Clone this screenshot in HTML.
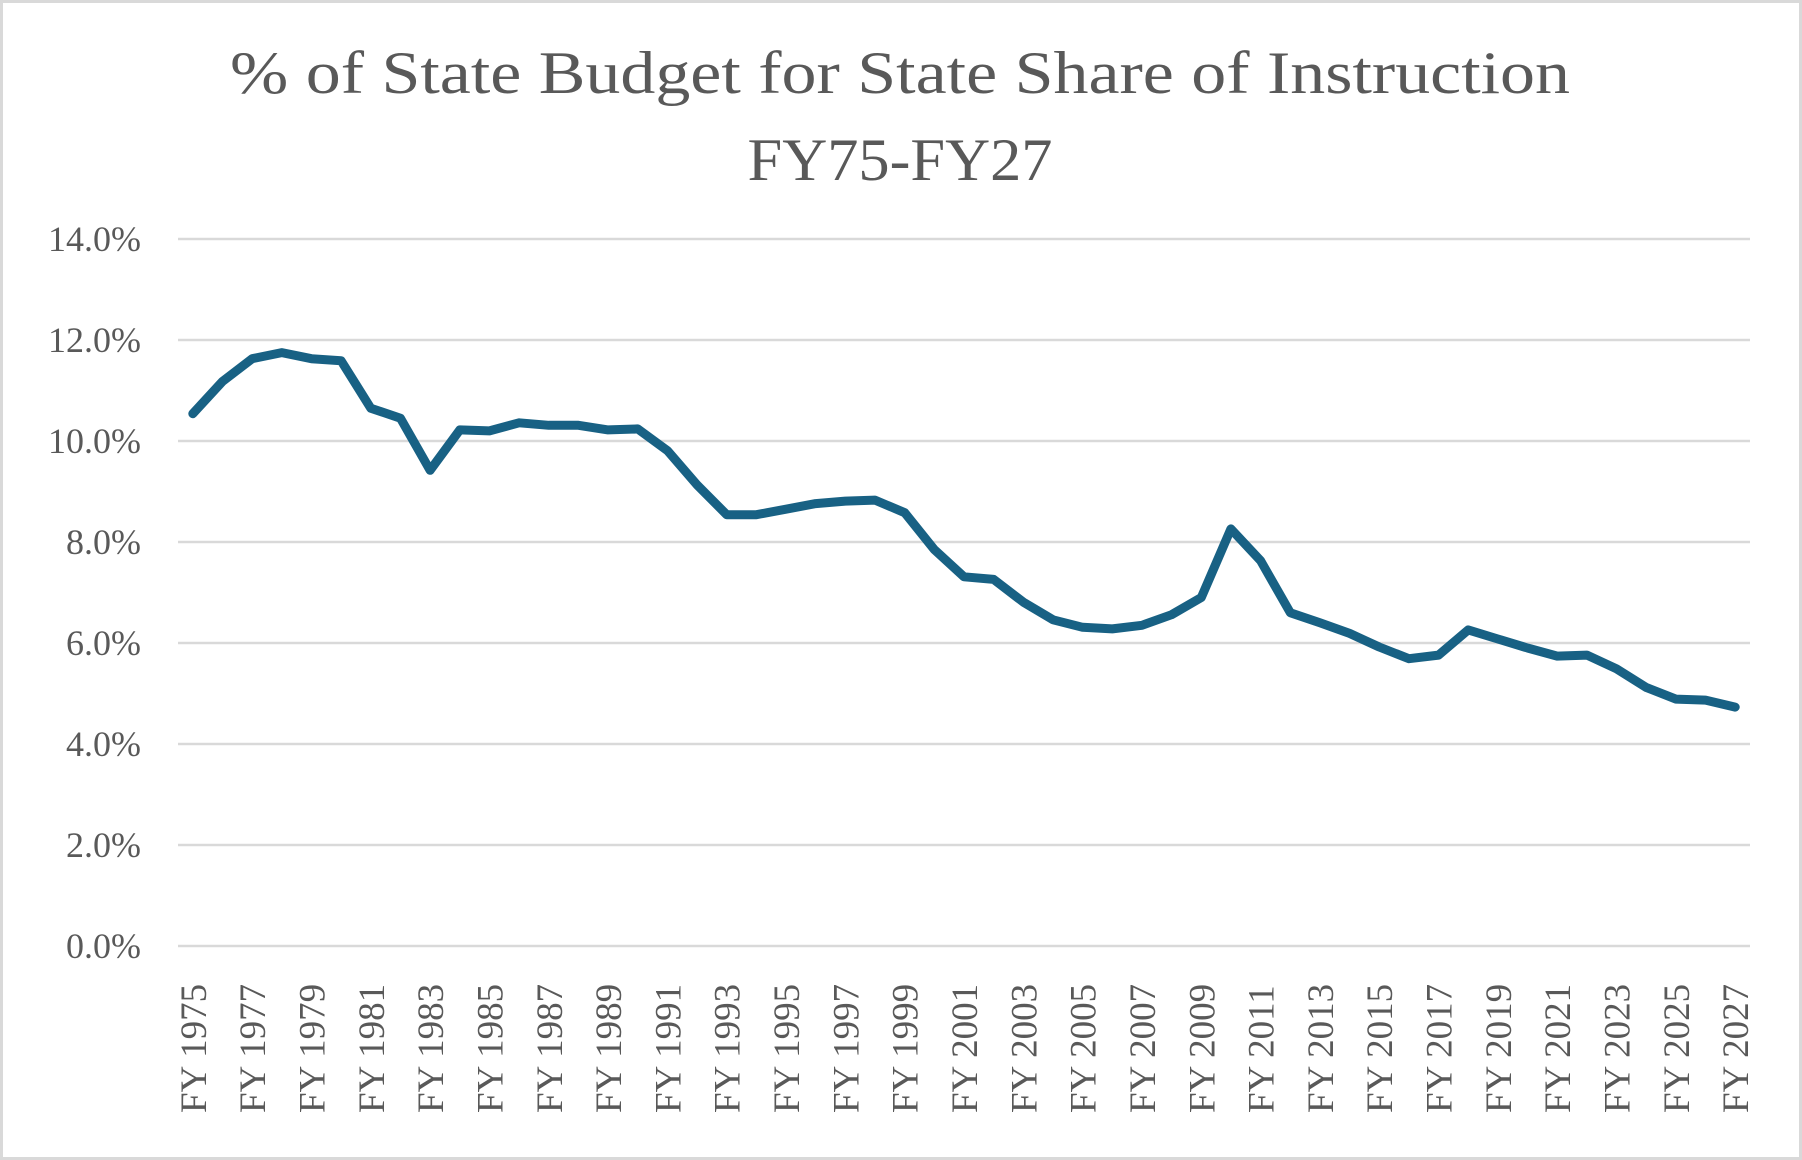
<!DOCTYPE html>
<html><head><meta charset="utf-8"><style>
html,body{margin:0;padding:0;background:#fff}
svg{display:block}
text{font-family:"Liberation Serif",serif;fill:#595959}
</style></head><body>
<svg id="chart" width="1802" height="1160" viewBox="0 0 1802 1160" xmlns="http://www.w3.org/2000/svg">
<rect x="1.5" y="1.5" width="1799" height="1157" fill="#fff" stroke="#d9d9d9" stroke-width="3"/>
<text x="900" y="93" font-size="60" text-anchor="middle" textLength="1340" lengthAdjust="spacingAndGlyphs">% of State Budget for State Share of Instruction</text>
<text x="900" y="180" font-size="60" text-anchor="middle" textLength="305" lengthAdjust="spacingAndGlyphs">FY75-FY27</text>
<g id="grid"></g>
<g id="yaxis"></g>
<g id="xaxis"></g>
<g id="series"></g>
</svg>
<script>
const years = [];
for (let y = 1975; y <= 2027; y++) years.push(y);
const shareValues = [10.54,11.18,11.63,11.75,11.63,11.59,10.65,10.45,9.42,10.22,10.2,10.36,10.31,10.31,10.22,10.24,9.81,9.13,8.54,8.54,8.65,8.76,8.81,8.83,8.58,7.85,7.31,7.26,6.81,6.46,6.31,6.28,6.35,6.56,6.9,8.26,7.63,6.6,6.4,6.19,5.92,5.69,5.76,6.26,6.08,5.9,5.74,5.76,5.49,5.12,4.89,4.87,4.73];
const yTicks = [0,2,4,6,8,10,12,14];
const yTickLabels = ["0.0%","2.0%","4.0%","6.0%","8.0%","10.0%","12.0%","14.0%"];

const NS = "http://www.w3.org/2000/svg";
const plotLeft = 178, plotRight = 1750, plotTop = 239, plotBottom = 946, yMax = 14;
const band = (plotRight - plotLeft) / years.length;
const xPos = i => plotLeft + band * (i + 0.5);
const yPos = v => plotBottom - (v / yMax) * (plotBottom - plotTop);
function mk(tag, attrs, parent) {
  const e = document.createElementNS(NS, tag);
  for (const k in attrs) e.setAttribute(k, attrs[k]);
  parent.appendChild(e);
  return e;
}
const gridG = document.getElementById('grid');
const yaxisG = document.getElementById('yaxis');
const xaxisG = document.getElementById('xaxis');
const seriesG = document.getElementById('series');

yTicks.forEach((t, i) => {
  const y = yPos(t);
  const l = mk('line', {x1: plotLeft, x2: plotRight, y1: y, y2: y, stroke: '#d9d9d9', 'stroke-width': 2.5}, gridG);
  
  
  const tx = mk('text', {x: 141, y: y + 12, 'font-size': 36, 'text-anchor': 'end'}, yaxisG);
  tx.textContent = yTickLabels[i];
  
  
});

years.forEach((yr, i) => {
  if (i % 2 !== 0) return;
  const x = xPos(i) + 13;
  const tx = mk('text', {x: x, y: 1113, 'font-size': 37, transform: `rotate(-90 ${x} 1113)`}, xaxisG);
  tx.textContent = 'FY ' + yr;
  
  
});

const pts = shareValues.map((v, i) => xPos(i).toFixed(1) + ',' + yPos(v).toFixed(1)).join(' ');
const pl = mk('polyline', {points: pts, fill: 'none', stroke: '#186184', 'stroke-width': 9, 'stroke-linejoin': 'round', 'stroke-linecap': 'round'}, seriesG);


</script>
</body></html>
